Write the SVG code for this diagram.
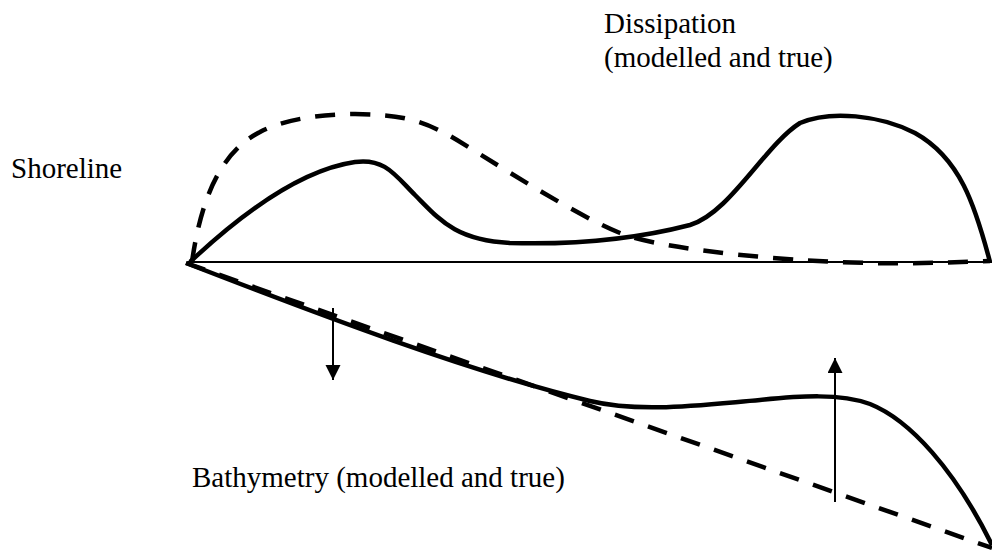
<svg xmlns="http://www.w3.org/2000/svg" width="992" height="552" viewBox="0 0 992 552">
<style>
.lbl{font-family:"Liberation Serif","Times New Roman",serif;font-size:29px;fill:#000}
.thick{fill:none;stroke:#000;stroke-width:4.5;stroke-linejoin:round}
.dash{stroke-dasharray:20 15}
.thin{fill:none;stroke:#000;stroke-width:2}
</style>
<defs>
<marker id="ah" markerUnits="userSpaceOnUse" markerWidth="16" markerHeight="16" refX="15" refY="7.5" orient="auto">
<path d="M0,0 L15,7.5 L0,15 z" fill="#000"/>
</marker>
</defs>
<rect width="992" height="552" fill="#fff"/>
<g id="connectors">
<line id="axis" class="thin" x1="188" y1="262" x2="992" y2="262"/>
<path id="diss-model" class="thick dash" d="M192,262 C200,205 218,153 260,132 C290,116 340,112 380,115 C410,117 430,124 457,140 C490,160 575,215 620,233 C665,251 800,262 870,263 C920,264 960,262 990,261"/>
<path id="diss-true" class="thick" d="M190,262 C240,215 300,170 355,162 C385,158 395,175 415,195 C440,220 455,240 510,243 C580,245 640,238 690,225 C730,213 765,145 800,123 C830,110 880,115 915,133 C960,158 975,205 990,262"/>
<path id="bathy-model" class="thick dash" d="M186,263 L992,548"/>
<path id="bathy-true" class="thick" d="M186,263 C320,315 470,372 590,401 C640,413 700,405 760,400 C800,396 840,393 870,404 C910,420 955,470 992,545"/>
<line id="arrow-down" class="thin" x1="333" y1="308" x2="333" y2="380" marker-end="url(#ah)"/>
<line id="arrow-up" class="thin" x1="835" y1="502" x2="835" y2="358" marker-end="url(#ah)"/>
</g>
<g id="shoreline"><text class="lbl" x="11" y="178">Shoreline</text></g>
<g id="dissipation"><text class="lbl" x="604" y="33">Dissipation</text><text class="lbl" x="604" y="67">(modelled and true)</text></g>
<g id="bathymetry"><text class="lbl" x="192" y="487">Bathymetry (modelled and true)</text></g>
</svg>
